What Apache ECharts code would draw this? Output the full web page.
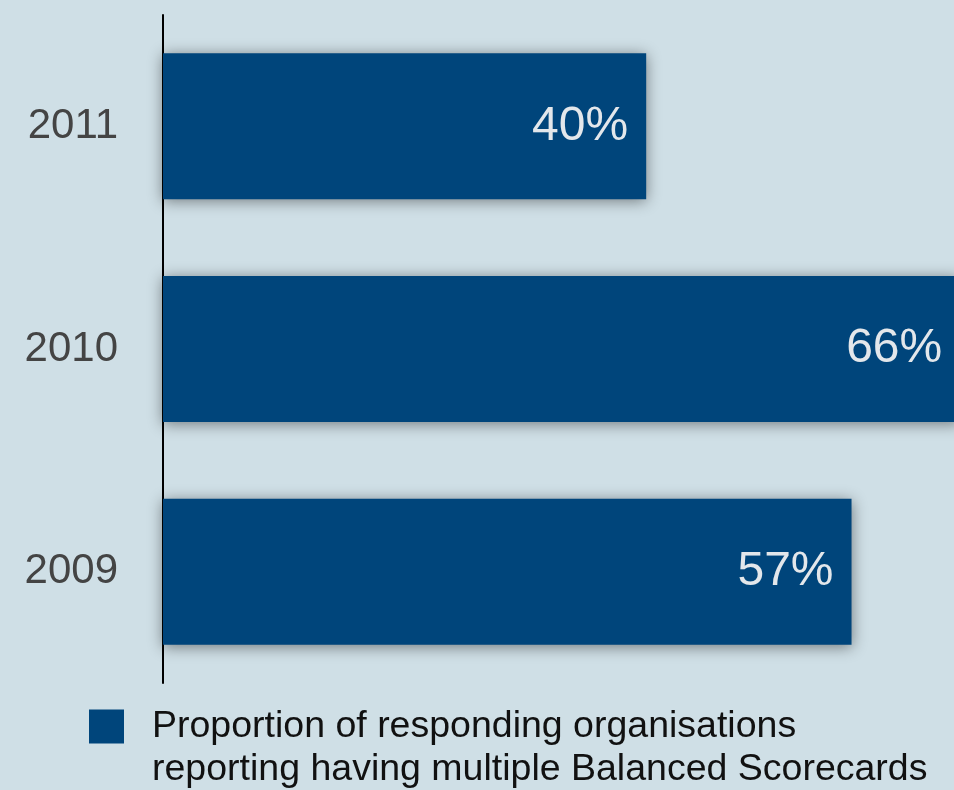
<!DOCTYPE html>
<html>
<head>
<meta charset="utf-8">
<script src="https://cdn.jsdelivr.net/npm/echarts@6/dist/echarts.min.js"></script>
<style>
html,body{margin:0;padding:0;background:#cfdfe6;}
#chart{width:954px;height:790px;}
</style>
</head>
<body>
<div id="chart"></div>
<script>
var years = ['2011', '2010', '2009'];
var values = [40, 66, 57];
var seriesName = 'Proportion of responding organisations\nreporting having multiple Balanced Scorecards';

var chart = echarts.init(document.getElementById('chart'));
chart.setOption({
  backgroundColor: '#cfdfe6',
  animation: false,
  textStyle: { fontFamily: '"Liberation Sans", Arial, Helvetica, sans-serif' },
  grid: { left: 163, top: 15, right: 1, bottom: 107, containLabel: false },
  xAxis: {
    type: 'value', min: 0, max: 65.4, show: false,
    splitLine: { show: false }
  },
  yAxis: {
    type: 'category', data: years, inverse: true,
    axisLine: { show: true, lineStyle: { color: '#000', width: 2 } },
    axisTick: { show: false },
    axisLabel: { color: '#444', fontSize: 42, margin: 45 }
  },
  legend: {
    show: true, left: 89, top: 662, padding: 0,
    itemWidth: 35, itemHeight: 34, icon: 'rect',
    data: [seriesName],
    formatter: function (name) { return '\n' + name; },
    textStyle: { color: '#111', fontSize: 37.5, lineHeight: 43, padding: [0, 0, 0, 23] }
  },
  series: [{
    name: seriesName,
    type: 'bar',
    data: values,
    barWidth: 146,
    clip: false,
    itemStyle: {
      color: '#00457b',
      shadowBlur: 14, shadowColor: 'rgba(0,0,0,0.45)', shadowOffsetX: 0, shadowOffsetY: 2
    },
    label: {
      show: true, position: 'insideRight', distance: 18,
      color: '#e3e7eb', fontSize: 48,
      formatter: '{c}%'
    }
  }]
});
</script>
</body>
</html>
